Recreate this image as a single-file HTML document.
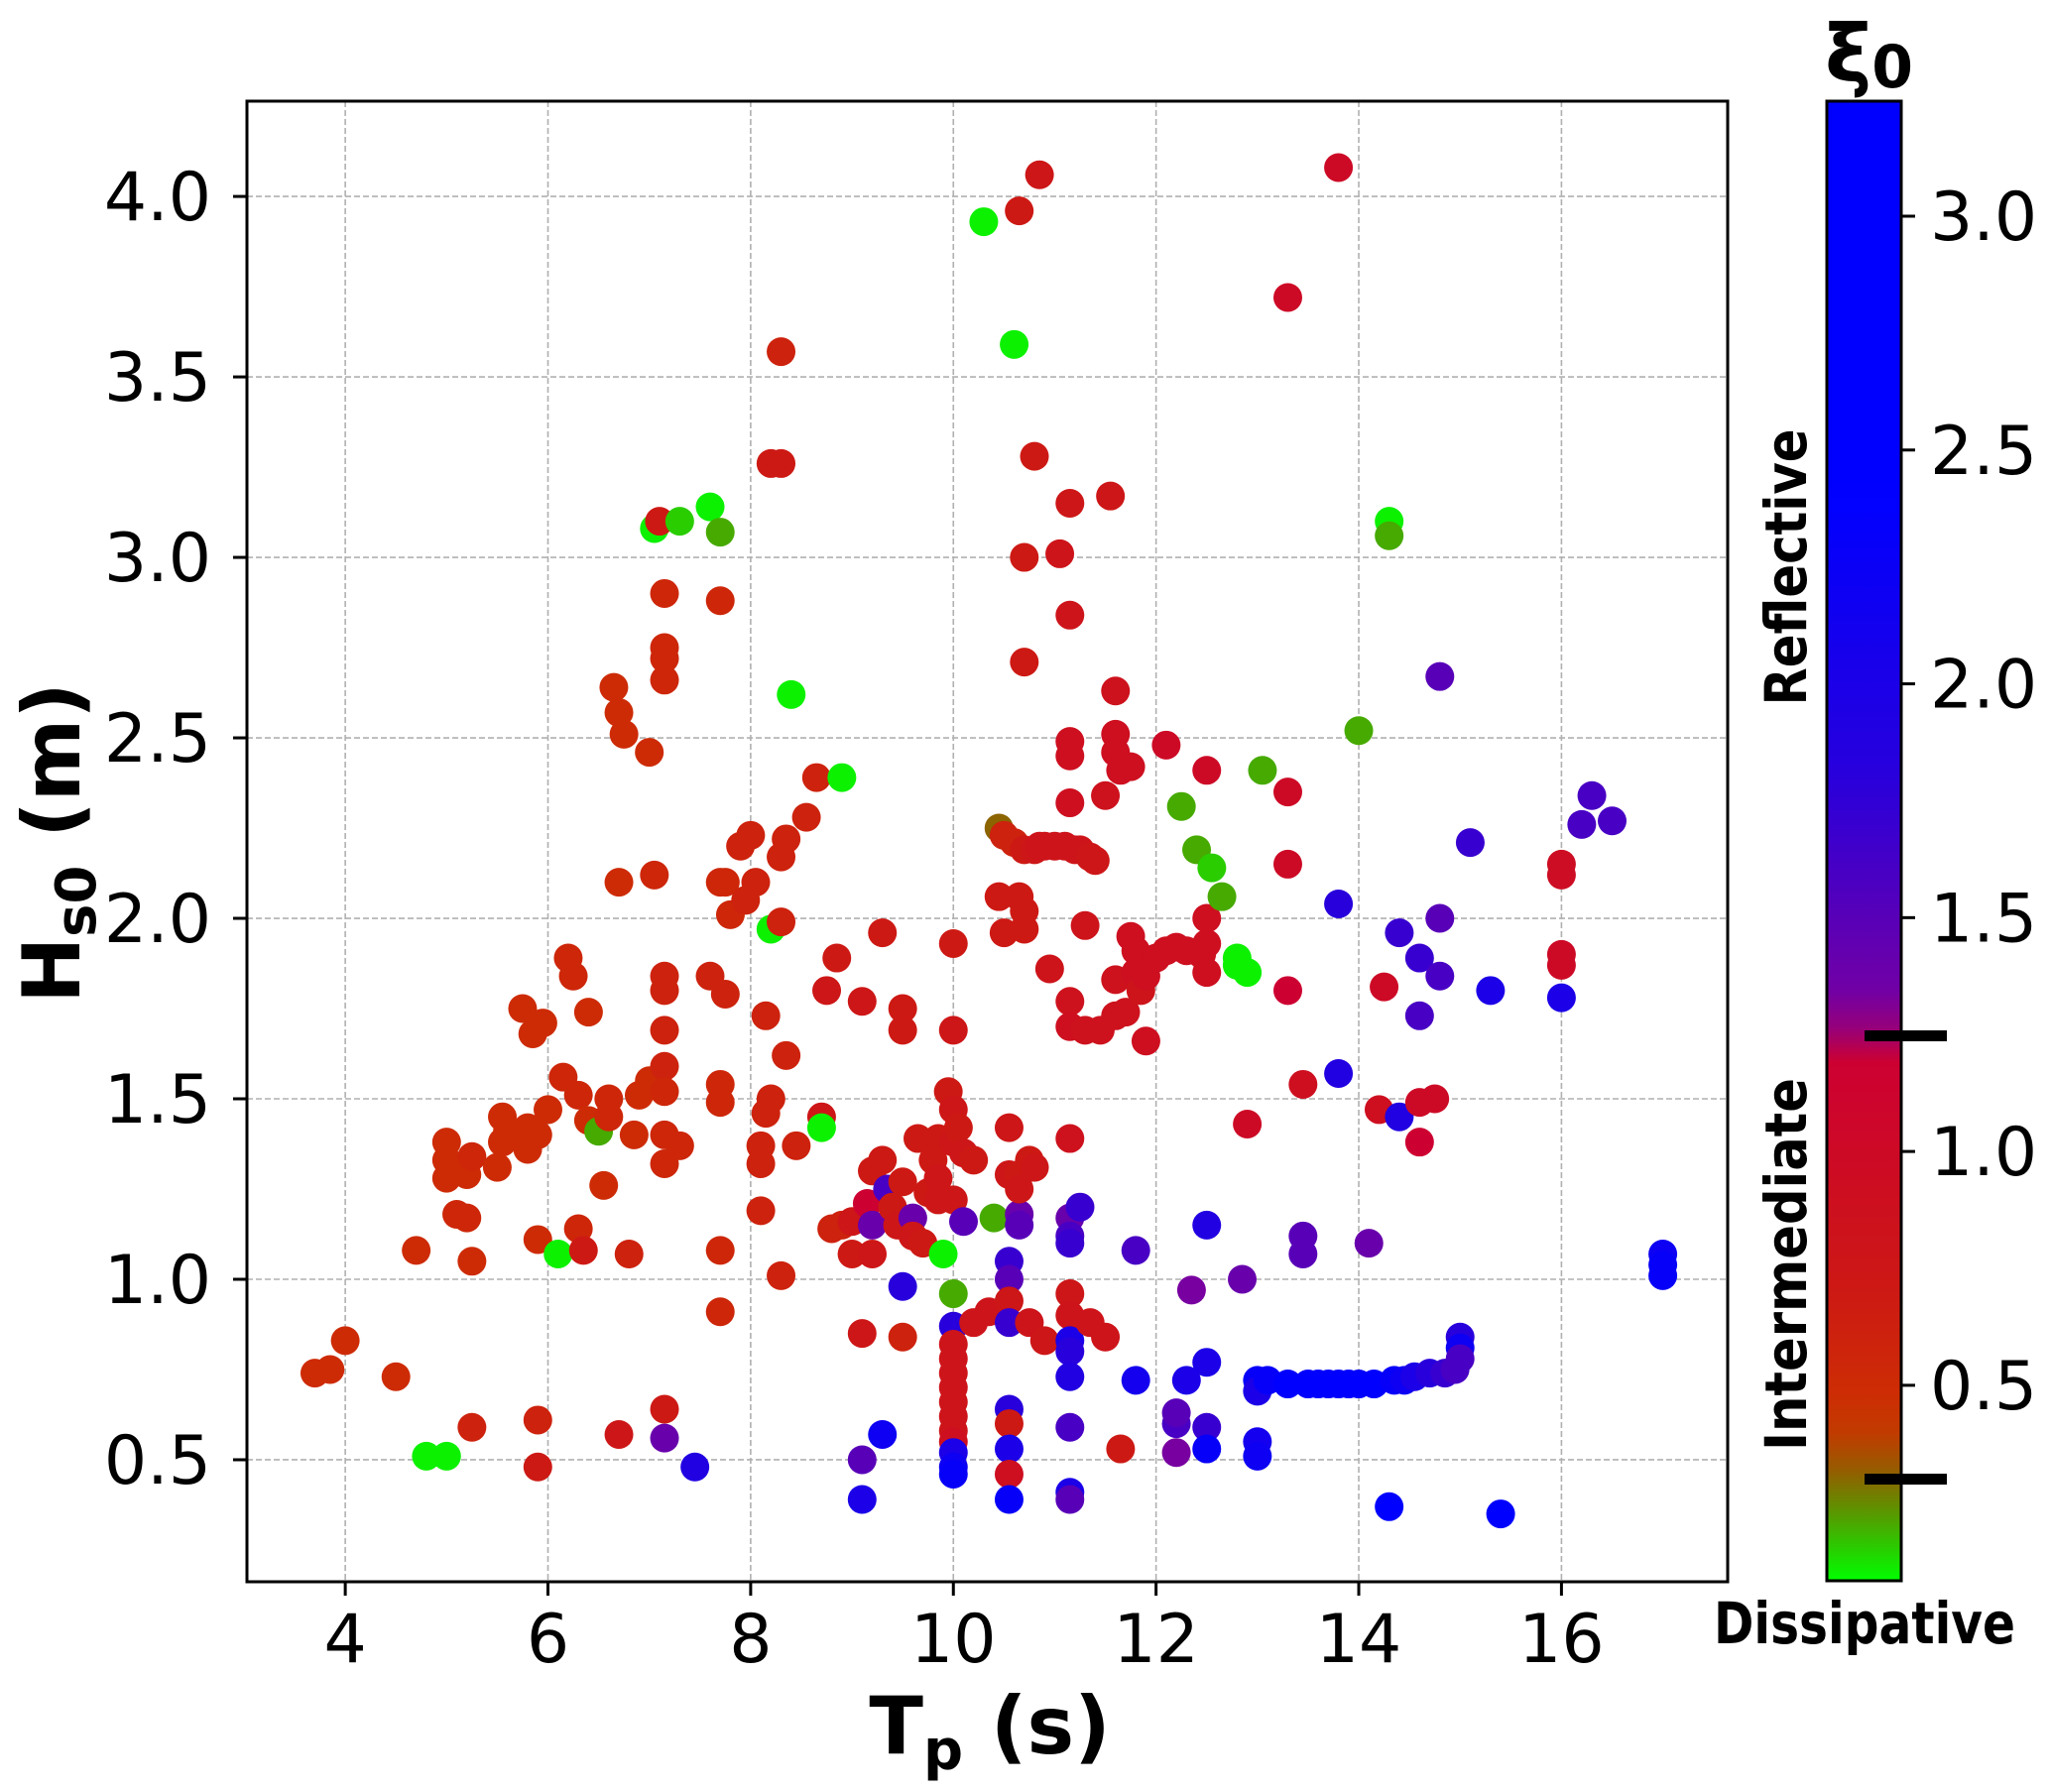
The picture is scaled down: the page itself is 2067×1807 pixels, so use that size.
<!DOCTYPE html>
<html><head><meta charset="utf-8">
<style>
html,body{margin:0;padding:0;background:#fff;}
svg{display:block;}
text{font-family:"DejaVu Sans","Liberation Sans",sans-serif;}
</style></head>
<body>
<svg id="chart" width="2067" height="1807" viewBox="0 0 2067 1807" xmlns="http://www.w3.org/2000/svg">
<defs><linearGradient id="cbgrad" x1="0" y1="1" x2="0" y2="0"></linearGradient></defs>
<g id="grid"></g>
<g id="points"></g>
<rect x="249" y="102" width="1493" height="1493" fill="none" stroke="#000" stroke-width="3"/>
<g id="axes"></g>
<text x="998" y="1768" font-size="80" font-weight="bold" text-anchor="middle">T<tspan font-size="56" dy="16">p</tspan><tspan dy="-16"> (s)</tspan></text>
<text transform="translate(80,850) rotate(-90)" font-size="80" font-weight="bold" text-anchor="middle">H<tspan font-size="56" dy="16">s0</tspan><tspan dy="-16"> (m)</tspan></text>
<rect id="cbar" x="1842" y="102" width="75" height="1492" fill="url(#cbgrad)" stroke="#000" stroke-width="3"/>
<g id="cbaxis"></g>
<text x="1840" y="82" font-size="80" font-weight="bold">ξ<tspan font-size="60" dy="6">0</tspan></text>
<text transform="translate(1821,572) rotate(-90)" font-size="58" font-weight="bold" text-anchor="middle" textLength="279" lengthAdjust="spacingAndGlyphs" font-family="Liberation Sans, sans-serif">Reflective</text>
<text transform="translate(1821,1275) rotate(-90)" font-size="58" font-weight="bold" text-anchor="middle" textLength="376" lengthAdjust="spacingAndGlyphs" font-family="Liberation Sans, sans-serif">Intermediate</text>
<text x="1880" y="1657" font-size="58" font-weight="bold" text-anchor="middle" textLength="304" lengthAdjust="spacingAndGlyphs" font-family="Liberation Sans, sans-serif">Dissipative</text>
<rect x="1880" y="1039" width="83" height="11" fill="#000"/>
<rect x="1880" y="1486" width="83" height="11" fill="#000"/>
</svg>
<script>
const xTicks=[4,6,8,10,12,14,16];
const yTicks=[0.5,1.0,1.5,2.0,2.5,3.0,3.5,4.0];
const cbTicks=[0.5,1.0,1.5,2.0,2.5,3.0];
const tp=[3.7,3.85,4.0,4.5,4.7,4.8,5.0,5.0,5.0,5.0,5.1,5.2,5.2,5.25,5.25,5.25,5.5,5.55,5.55,5.6,5.75,5.8,5.8,5.85,5.9,5.9,5.9,5.9,5.95,6.0,6.1,6.15,6.2,6.25,6.3,6.3,6.35,6.4,6.4,6.5,6.55,6.6,6.6,6.65,6.7,6.7,6.7,6.75,6.8,6.85,6.9,7.0,7.0,7.05,7.05,7.1,7.15,7.15,7.15,7.15,7.15,7.15,7.15,7.15,7.15,7.15,7.15,7.15,7.15,7.3,7.3,7.45,7.6,7.6,7.7,7.7,7.7,7.75,7.7,7.7,7.7,7.7,7.75,7.8,7.9,7.95,8.0,8.05,8.1,8.1,8.1,8.15,8.15,8.2,8.2,8.3,8.3,8.2,8.3,8.35,8.3,8.35,8.3,8.4,8.45,8.55,8.65,8.7,8.7,8.75,8.8,8.85,8.9,8.9,9.0,9.0,9.1,9.1,9.1,9.1,9.15,9.2,9.2,9.2,9.3,9.3,9.3,9.35,9.4,9.45,9.5,9.5,9.5,9.5,9.5,9.6,9.6,9.65,9.7,9.75,9.8,9.85,9.85,9.85,9.9,9.95,10.0,10.0,10.0,10.0,10.0,10.0,10.0,10.0,10,10,10,10,10,10,10,10,10,10,10.05,10.1,10.1,10.2,10.2,10.3,10.35,10.4,10.45,10.5,10.45,10.5,10.55,10.55,10.55,10.55,10.55,10.55,10.55,10.55,10.55,10.55,10.55,10.6,10.65,10.6,10.65,10.7,10.7,10.65,10.65,10.65,10.65,10.7,10.7,10.7,10.75,10.75,10.8,10.85,10.8,10.8,10.85,10.9,10.9,10.95,11.0,11.05,11.1,11.15,11.15,11.15,11.15,11.15,11.15,11.15,11.15,11.15,11.15,11.15,11.15,11.15,11.15,11.15,11.15,11.15,11.15,11.15,11.2,11.25,11.25,11.3,11.3,11.35,11.4,11.35,11.45,11.5,11.5,11.55,11.6,11.6,11.6,11.6,11.6,11.65,11.65,11.7,11.75,11.75,11.8,11.8,11.85,11.8,11.8,11.9,11.9,12.0,12.1,12.1,12.2,12.2,12.2,12.2,12.25,12.3,12.3,12.35,12.4,12.45,12.5,12.5,12.5,12.5,12.5,12.5,12.5,12.5,12.55,12.65,12.8,12.8,12.85,12.9,12.9,13.05,13.0,13.0,13.0,13.0,13.1,13.3,13.3,13.3,13.3,13.3,13.45,13.45,13.45,13.5,13.6,13.7,13.8,13.8,13.8,13.8,13.9,14.0,14.0,14.1,14.15,14.2,14.25,14.3,14.3,14.3,14.35,14.4,14.4,14.45,14.55,14.6,14.6,14.6,14.6,14.7,14.75,14.8,14.8,14.8,14.85,14.95,15.0,15.0,15.0,15.1,15.3,15.4,16.0,16.0,16.0,16.0,16.0,16.2,16.3,16.5,17.0,17.0,17.0];
const hs=[0.74,0.75,0.83,0.73,1.08,0.51,0.51,1.38,1.33,1.28,1.18,1.17,1.29,1.05,1.34,0.59,1.31,1.38,1.45,1.41,1.75,1.42,1.36,1.68,1.4,1.11,0.61,0.48,1.71,1.47,1.07,1.56,1.89,1.84,1.51,1.14,1.08,1.74,1.44,1.41,1.26,1.5,1.45,2.64,2.57,2.1,0.57,2.51,1.07,1.40,1.51,2.46,1.55,2.12,3.08,3.1,2.9,2.75,2.72,2.66,1.84,1.8,1.69,1.59,1.52,1.4,1.32,0.64,0.56,3.1,1.37,0.48,3.14,1.84,3.07,2.88,2.1,2.1,1.54,1.49,1.08,0.91,1.79,2.01,2.2,2.05,2.23,2.1,1.19,1.32,1.37,1.73,1.46,1.97,3.26,3.26,3.57,1.5,2.17,2.22,1.99,1.62,1.01,2.62,1.37,2.28,2.39,1.45,1.42,1.8,1.14,1.89,2.39,1.15,1.07,1.16,1.77,0.85,0.5,0.39,1.21,1.3,1.15,1.07,1.33,1.96,0.57,1.25,1.2,1.15,1.75,1.69,0.98,0.84,1.27,1.17,1.12,1.39,1.1,1.24,1.33,1.39,1.28,1.22,1.07,1.52,1.47,1.38,1.22,1.93,1.69,0.96,0.87,0.82,0.78,0.74,0.70,0.66,0.62,0.58,0.55,0.52,0.48,0.46,1.42,1.35,1.16,1.33,0.88,3.93,0.91,1.17,2.25,2.23,2.06,1.96,1.42,1.29,1.05,1.0,0.94,0.88,0.64,0.6,0.53,0.46,0.39,3.59,3.96,2.21,2.06,2.02,1.97,1.29,1.18,1.15,1.25,2.71,3.0,2.19,1.33,0.88,3.28,4.06,1.31,2.19,2.2,2.2,0.83,1.86,2.2,3.01,2.2,3.15,2.84,2.49,2.45,2.32,1.77,1.7,1.39,0.96,0.9,0.83,0.8,0.73,0.59,0.41,0.39,1.17,1.12,1.1,2.19,2.19,1.2,1.98,1.69,2.17,2.16,0.88,1.69,2.34,0.84,3.17,2.63,2.51,2.46,1.73,1.83,2.41,0.53,1.74,2.42,1.95,1.91,1.85,1.8,1.08,0.72,1.66,1.84,1.89,2.48,1.91,1.92,0.6,0.63,0.52,2.31,1.91,0.72,0.97,2.19,1.9,1.93,1.85,2.0,2.41,1.15,0.77,0.59,0.53,2.14,2.06,1.89,1.87,1.0,1.85,1.43,2.41,0.72,0.69,0.55,0.51,0.72,3.72,2.35,2.15,1.8,0.71,1.54,1.12,1.07,0.71,0.71,0.71,2.04,1.57,4.08,0.71,0.71,2.52,0.71,1.1,0.71,1.47,1.81,3.1,3.06,0.37,0.72,1.96,1.45,0.72,0.73,1.89,1.73,1.49,1.38,0.74,1.5,2.67,2.0,1.84,0.74,0.75,0.84,0.81,0.78,2.21,1.8,0.35,2.15,2.12,1.9,1.87,1.78,2.26,2.34,2.27,1.07,1.04,1.01];
const xi=[0.5,0.5,0.5,0.5,0.5,0.1,0.1,0.5,0.5,0.5,0.55,0.55,0.5,0.5,0.55,0.6,0.5,0.5,0.5,0.5,0.5,0.5,0.5,0.5,0.5,0.5,0.6,0.7,0.5,0.5,0.1,0.55,0.55,0.55,0.55,0.55,0.7,0.5,0.5,0.2,0.5,0.55,0.55,0.5,0.5,0.5,0.75,0.5,0.6,0.5,0.5,0.5,0.5,0.55,0.1,0.7,0.55,0.55,0.55,0.55,0.6,0.6,0.6,0.6,0.55,0.55,0.55,0.7,1.4,0.15,0.55,1.9,0.1,0.6,0.2,0.55,0.55,0.55,0.55,0.55,0.55,0.55,0.6,0.55,0.6,0.6,0.6,0.6,0.6,0.6,0.6,0.6,0.6,0.1,0.7,0.7,0.6,0.6,0.6,0.6,0.6,0.6,0.6,0.1,0.6,0.6,0.6,0.75,0.1,0.75,0.6,0.7,0.1,0.6,0.7,0.75,0.75,0.75,1.5,2.0,1.2,0.7,1.4,0.75,0.7,0.7,2.2,1.6,0.7,0.75,0.7,0.7,1.8,0.6,0.7,1.4,0.75,0.7,0.7,0.7,0.7,0.7,0.75,0.75,0.1,0.7,0.75,0.75,0.75,0.7,0.75,0.2,1.8,0.8,0.8,0.8,0.8,0.8,0.8,0.8,0.9,2.0,2.2,2.3,0.7,0.75,1.5,0.7,0.8,0.1,0.8,0.2,0.3,0.6,0.7,0.7,0.75,0.75,1.7,1.5,0.75,1.7,1.8,0.7,2.0,0.9,2.3,0.1,0.7,0.6,0.7,0.7,0.7,0.7,1.4,1.5,0.75,0.7,0.7,0.7,0.7,0.8,0.7,0.75,0.75,0.75,0.8,0.8,0.75,0.8,0.8,0.8,0.8,0.75,0.8,0.9,0.9,0.9,0.85,0.9,0.85,0.75,0.8,2.0,1.8,1.9,1.6,2.0,1.5,1.4,1.6,1.7,0.8,0.8,1.7,0.8,0.85,0.75,0.75,0.8,0.85,0.85,0.8,0.75,0.85,0.9,0.9,0.85,0.85,0.9,0.7,0.85,0.9,0.9,0.9,0.9,0.8,1.6,2.1,0.9,0.9,0.9,1.0,0.9,0.9,1.6,1.5,1.3,0.2,0.9,2.0,1.3,0.2,0.9,0.9,0.9,0.9,1.0,1.9,2.0,1.7,2.3,0.15,0.2,0.1,0.1,1.4,0.1,1.0,0.2,2.3,2.0,2.1,2.2,2.3,1.0,1.0,1.0,1.2,2.5,0.9,1.5,1.5,2.5,2.5,2.5,1.8,1.9,1.0,2.5,2.5,0.2,2.5,1.4,2.5,0.9,1.0,0.1,0.2,2.4,2.3,1.7,1.9,2.2,2.0,1.7,1.6,1.0,1.2,1.8,1.0,1.5,1.5,1.6,1.7,1.6,1.8,2.2,1.6,1.7,2.0,2.6,0.95,0.95,1.0,1.0,2.0,1.6,1.6,1.6,2.2,2.3,2.3];

const NS="http://www.w3.org/2000/svg";
const PL=249,PR=1742,PT=102,PB=1595;
const XMIN=3.03,XMAX=17.64,YMIN=0.162,YMAX=4.264;
const CT=102,CB=1594,CMIN=0.082,CMAX=3.246;
function sx(v){return PL+(v-XMIN)/(XMAX-XMIN)*(PR-PL);}
function sy(v){return PB-(v-YMIN)/(YMAX-YMIN)*(PB-PT);}
function cy(v){return CB-(v-CMIN)/(CMAX-CMIN)*(CB-CT);}
const stops=[[0.08,[0,255,0]],[0.2,[70,170,0]],[0.3,[140,100,0]],[0.42,[205,50,0]],[0.7,[205,25,20]],[1.2,[205,0,50]],[1.3,[120,0,160]],[1.8,[40,0,220]],[2.4,[0,0,255]],[3.3,[0,0,255]]];
function cmap(v){
  if(v<=stops[0][0])return 'rgb(0,255,0)';
  for(let i=1;i<stops.length;i++){
    if(v<=stops[i][0]){const a=stops[i-1],b=stops[i];const t=(v-a[0])/(b[0]-a[0]);
      const c=a[1].map((q,k)=>Math.round(q+(b[1][k]-q)*t));return 'rgb('+c.join(',')+')';}
  }
  return 'rgb(0,0,255)';
}
function mk(tag,attrs,parent){const e=document.createElementNS(NS,tag);for(const k in attrs)e.setAttribute(k,attrs[k]);parent.appendChild(e);return e;}
const grid=document.getElementById('grid'),axes=document.getElementById('axes'),pts=document.getElementById('points');
xTicks.forEach(t=>{const x=sx(t);
  const g=mk('line',{x1:x,x2:x,y1:PT,y2:PB,stroke:'#b0b0b0','stroke-width':1.6,'stroke-dasharray':'6,3'},grid);
  
  
  const tk=mk('line',{x1:x,x2:x,y1:PB,y2:PB+14,stroke:'#000','stroke-width':3},axes);
  
  
  const tx=mk('text',{x:x,y:1676,'font-size':68,'text-anchor':'middle'},axes);tx.textContent=String(t);
  
  
});
yTicks.forEach(t=>{const y=sy(t);
  const g=mk('line',{x1:PL,x2:PR,y1:y,y2:y,stroke:'#b0b0b0','stroke-width':1.6,'stroke-dasharray':'6,3'},grid);
  
  
  const tk=mk('line',{x1:PL-14,x2:PL,y1:y,y2:y,stroke:'#000','stroke-width':3},axes);
  
  
  const tx=mk('text',{x:213,y:y+24,'font-size':68,'text-anchor':'end'},axes);tx.textContent=t.toFixed(1);
  
  
});
for(let i=0;i<tp.length;i++){
  const c=mk('circle',{cx:sx(tp[i]),cy:sy(hs[i]),r:14.5,fill:cmap(xi[i])},pts);
  
  
}
const grad=document.getElementById('cbgrad');
for(let i=0;i<=40;i++){const v=CMIN+(CMAX-CMIN)*i/40;
  mk('stop',{offset:(i/40*100)+'%','stop-color':cmap(v)},grad);}
const cba=document.getElementById('cbaxis');
cbTicks.forEach(t=>{const y=cy(t);
  const tk=mk('line',{x1:1917,x2:1931,y1:y,y2:y,stroke:'#000','stroke-width':3},cba);
  
  
  const tx=mk('text',{x:1946,y:y+24,'font-size':68},cba);tx.textContent=t.toFixed(1);
  
  
});
</script>
</body></html>
